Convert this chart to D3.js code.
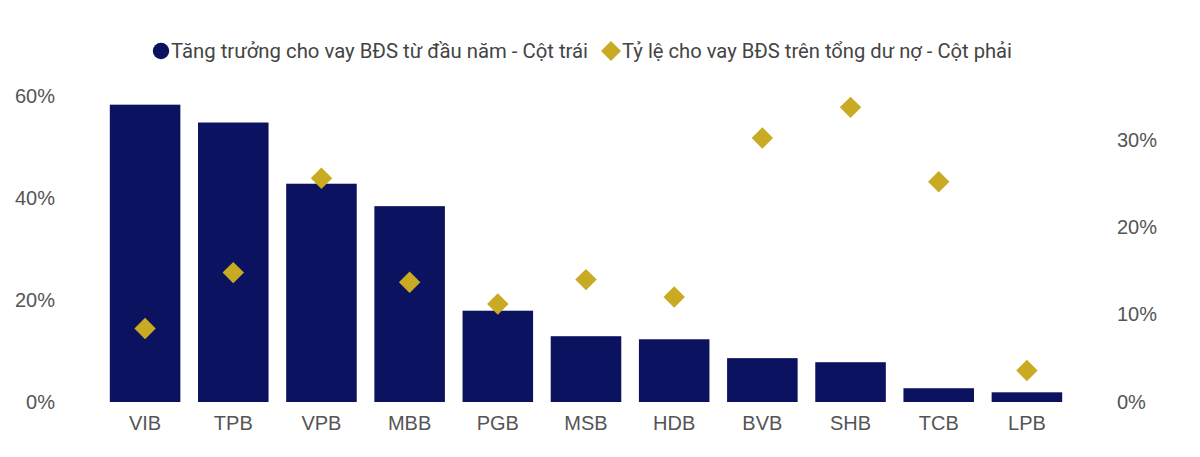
<!DOCTYPE html>
<html>
<head>
<meta charset="utf-8">
<script src="https://cdn.jsdelivr.net/npm/d3@7"></script>
<style>
    body { margin: 0; background: #fff; }
    svg { font-family: Roboto, "Noto Sans", sans-serif; }
    .tick text { fill: #555; font-size: 20px; }
</style>
</head>
<body>
<svg id="chart" width="1200" height="457"></svg>
<script>
// Data
const banks = ['VIB', 'TPB', 'VPB', 'MBB', 'PGB', 'MSB', 'HDB', 'BVB', 'SHB', 'TCB', 'LPB'];
const growthYtd = [58.3, 54.8, 42.8, 38.4, 17.9, 12.9, 12.3, 8.6, 7.8, 2.7, 1.9];   // left axis, %
const shareOfLoans = [8.4, 14.8, 25.6, 13.7, 11.2, 14.0, 12.0, 30.2, 33.7, 25.2, 3.6]; // right axis, %
const leftTicks = [0, 20, 40, 60];
const rightTicks = [0, 10, 20, 30];
const legendLabels = [
    'Tăng trưởng cho vay BĐS từ đầu năm - Cột trái',
    'Tỷ lệ cho vay BĐS trên tổng dư nợ - Cột phải'
];

const barColor = '#0b1260';
const dotColor = '#c8ab22';

const svg = d3.select('#chart');
const plotTop = 96, plotBottom = 402;

const x = d3.scaleBand()
    .domain(banks)
    .range([101, 1071])
    .paddingInner(0.2)
    .paddingOuter(0.1);

const yLeft = d3.scaleLinear().domain([0, 60]).range([plotBottom, plotTop]);
const yRight = d3.scaleLinear().domain([0, 35]).range([plotBottom, plotTop]);

// Left axis
const leftAxis = svg.append('g')
    .attr('transform', 'translate(55,0)')
    .call(d3.axisLeft(yLeft).tickValues(leftTicks).tickSize(0).tickPadding(0).tickFormat(d => d + '%'));
leftAxis.select('.domain').remove();

// Right axis
const rightAxis = svg.append('g')
    .attr('transform', 'translate(1117,0)')
    .call(d3.axisRight(yRight).tickValues(rightTicks).tickSize(0).tickPadding(0).tickFormat(d => d + '%'));
rightAxis.select('.domain').remove();

// Category axis
const xAxis = svg.append('g')
    .attr('transform', `translate(0,${plotBottom})`)
    .call(d3.axisBottom(x).tickSize(0).tickPadding(14));
xAxis.select('.domain').remove();

// Bars
svg.append('g')
    .selectAll('rect')
    .data(banks)
    .join('rect')
    .attr('x', d => x(d))
    .attr('width', x.bandwidth())
    .attr('y', (d, i) => yLeft(growthYtd[i]))
    .attr('height', (d, i) => plotBottom - yLeft(growthYtd[i]))
    .attr('fill', barColor);

// Diamonds
const diamond = d3.symbol().type(d3.symbolSquare).size(230);
svg.append('g')
    .selectAll('path')
    .data(banks)
    .join('path')
    .attr('d', diamond)
    .attr('transform', (d, i) => `translate(${x(d) + x.bandwidth() / 2},${yRight(shareOfLoans[i])}) rotate(45)`)
    .attr('fill', dotColor);

// Legend
const legend = svg.append('g').attr('class', 'legend');
legend.append('circle')
    .attr('cx', 161)
    .attr('cy', 51)
    .attr('r', 8.2)
    .attr('fill', barColor);
legend.append('text')
    .attr('x', 171)
    .attr('y', 58)
    .attr('font-size', 20.5)
    .attr('fill', '#444')
    .attr('textLength', 417)
    .attr('lengthAdjust', 'spacingAndGlyphs')
    .text(legendLabels[0]);
legend.append('path')
    .attr('d', d3.symbol().type(d3.symbolSquare).size(200))
    .attr('transform', 'translate(611,51) rotate(45)')
    .attr('fill', dotColor);
legend.append('text')
    .attr('x', 622)
    .attr('y', 58)
    .attr('font-size', 20.5)
    .attr('fill', '#444')
    .attr('textLength', 390)
    .attr('lengthAdjust', 'spacingAndGlyphs')
    .text(legendLabels[1]);
</script>
</body>
</html>
